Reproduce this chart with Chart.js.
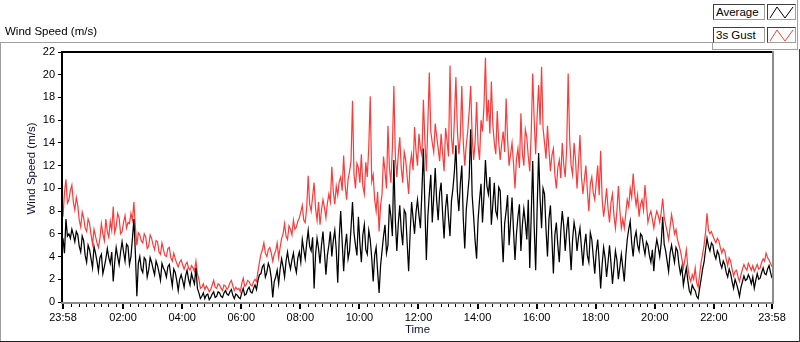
<!DOCTYPE html>
<html><head><meta charset="utf-8">
<script src="https://cdn.jsdelivr.net/npm/chart.js@4/dist/chart.umd.min.js"></script>
<style>
html,body{margin:0;padding:0;background:#fff;}
#wrap{position:relative;width:800px;height:342px;overflow:hidden;font-family:"Liberation Sans",Arial,sans-serif;color:#000;}
#c{position:absolute;left:0;top:0;}
.ln{position:absolute;}
#title{position:absolute;left:5px;top:25px;font-size:11.5px;line-height:13px;white-space:nowrap;}
.lbox{position:absolute;left:713px;width:48px;height:14px;border:1px solid;border-color:#404040 #a0a0a0 #a0a0a0 #404040;background:#fff;font-size:11.5px;line-height:14px;padding-left:2px;box-sizing:content-box;white-space:nowrap;}
.ibox{position:absolute;left:767px;width:27px;height:14px;border:1px solid;border-color:#404040 #a0a0a0 #a0a0a0 #404040;background:#fff;}
.ibox svg{position:absolute;left:0;top:0;}
</style></head>
<body>
<div id="wrap">
<canvas id="c" width="800" height="342"></canvas>
<div id="title">Wind Speed (m/s)</div>
<div class="ln" style="left:0;top:42px;width:712px;height:1px;background:#a0a0a0"></div>
<div class="ln" style="left:0;top:42px;width:1px;height:300px;background:#a0a0a0"></div>
<div class="ln" style="left:0;top:341px;width:800px;height:1px;background:#202020"></div>
<div class="ln" style="left:799px;top:49px;width:1px;height:293px;background:#404040"></div>
<div class="ln" style="left:712px;top:42px;width:1px;height:8px;background:#a0a0a0"></div>
<div class="ln" style="left:712px;top:49px;width:86px;height:1px;background:#a0a0a0"></div>
<div class="ln" style="left:797px;top:0;width:1px;height:50px;background:#a0a0a0"></div>
<div class="lbox" style="top:4px">Average</div>
<div class="ibox" style="top:4px"><svg width="27" height="14"><polyline points="2,13 9,2 17,13 25,2" fill="none" stroke="#000" stroke-width="1"/></svg></div>
<div class="lbox" style="top:27px">3s Gust</div>
<div class="ibox" style="top:27px"><svg width="27" height="14"><polyline points="2,13 9,2 17,13 25,2" fill="none" stroke="#ff3b3b" stroke-width="1"/></svg></div>
</div>
<script>
// sampling interval of the series, minutes after 23:58
const SAMPLE_MIN = 3;
// Average wind speed (m/s), one row per hour
const avgSpeed = [
5.6,4.3,7.3,5.8,6.0,5.6,6.4,5.9,5.3,6.2,5.9,4.9,4.4,5.8,5.4,4.1,3.5,5.0,4.6,3.8,
3.0,4.9,4.3,3.6,2.7,3.9,4.2,2.5,3.1,3.8,4.7,3.9,3.4,4.4,1.8,3.5,4.8,4.0,3.3,4.4,
5.3,4.4,3.6,5.1,4.9,3.3,4.0,5.6,7.3,4.3,0.5,3.4,4.0,2.9,2.6,3.9,3.7,2.2,2.8,3.9,
3.5,2.9,2.4,3.6,3.2,2.6,1.9,3.4,3.0,2.7,2.2,3.1,3.3,2.3,1.4,2.9,2.6,1.9,1.0,2.0,
2.4,1.9,1.3,2.3,2.8,2.0,1.5,2.5,2.0,1.6,3.0,1.2,0.8,0.3,0.5,0.8,0.3,0.6,0.7,0.2,
0.4,0.7,0.9,0.4,0.5,0.9,0.8,0.5,0.4,0.8,1.0,0.7,0.6,0.9,1.1,0.6,0.3,0.7,0.6,0.4,
0.3,0.8,1.2,0.6,0.7,1.1,1.3,0.9,0.8,1.2,1.5,1.1,1.9,2.4,2.5,3.1,3.3,2.2,2.6,3.4,
3.0,2.1,0.4,1.8,2.2,2.8,1.6,2.9,3.8,3.1,2.2,3.6,4.4,3.5,2.9,3.7,4.3,3.2,2.6,3.9,
4.4,3.5,5.5,4.6,3.8,5.2,6.3,4.9,4.5,5.7,1.2,4.2,5.6,4.7,3.4,5.0,6.2,4.4,2.4,4.1,
5.0,6.2,4.0,5.4,6.3,4.6,1.7,5.6,8.0,5.3,2.7,4.9,6.0,3.8,4.5,6.5,8.8,6.1,5.0,4.1,
7.5,5.2,3.5,5.9,6.8,4.6,4.2,6.3,5.5,3.9,1.8,4.1,4.8,2.7,0.8,3.2,4.5,5.8,6.8,4.3,
5.0,8.6,7.5,5.8,12.5,7.2,4.5,6.9,8.5,6.3,5.0,8.1,7.8,5.2,2.7,6.0,8.8,7.4,6.0,7.9,
9.0,7.6,6.5,9.8,13.5,8.4,3.7,7.5,9.5,11.2,7.0,9.2,11.8,8.9,7.2,9.6,10.5,7.8,5.6,8.3,
9.5,7.4,5.8,8.9,10.0,11.5,13.8,9.7,8.0,10.4,12.0,7.3,4.7,8.1,9.5,11.0,15.2,9.4,7.5,5.4,
3.8,7.2,9.0,10.4,7.0,9.3,12.5,10.2,9.5,11.0,6.8,8.6,10.5,8.0,7.5,10.1,9.8,6.2,3.5,6.9,
8.0,9.4,5.0,7.1,9.2,6.3,3.7,6.0,7.5,8.6,4.5,6.8,8.2,7.0,5.5,9.0,3.0,7.7,12.4,6.6,
2.8,8.2,13.1,9.1,6.5,10.0,9.5,6.4,4.0,7.3,8.5,5.6,2.5,5.9,7.0,5.0,3.5,6.2,8.0,6.7,
4.5,6.3,7.5,5.1,2.8,5.5,7.0,6.2,4.5,5.7,6.5,4.8,3.2,5.0,6.0,4.1,3.5,6.1,5.5,4.0,
2.5,4.4,5.5,3.6,1.2,3.3,4.8,3.9,2.2,3.5,5.0,3.4,1.6,3.0,4.5,3.7,2.0,3.1,4.2,3.0,
1.8,4.0,5.5,6.4,7.1,5.2,4.0,5.6,6.2,5.0,4.5,6.0,5.8,4.9,4.2,5.3,5.0,4.1,3.5,4.6,
2.7,4.6,5.5,4.8,4.0,5.2,7.5,5.1,4.5,3.6,2.7,4.3,5.0,4.2,3.5,4.8,4.5,3.3,2.5,3.1,
1.5,2.3,3.0,1.9,1.0,0.7,1.5,1.2,1.0,0.5,0.3,1.2,2.0,2.9,3.5,4.6,5.6,4.9,4.5,5.2,
5.0,4.2,3.8,4.5,4.2,3.4,3.0,3.6,3.3,2.6,2.2,2.9,2.5,1.8,1.2,2.0,1.6,1.1,0.5,1.3,
1.8,2.3,1.9,2.0,2.4,2.1,1.6,2.2,1.2,1.9,2.5,2.0,2.1,2.6,3.0,2.5,2.4,2.9,3.2,2.6,2.1
];
// 3 second gust (m/s), one row per hour
const gustSpeed = [
7.5,9.6,10.8,8.7,9.0,9.8,10.3,8.8,8.1,9.2,8.5,7.2,6.6,7.9,7.4,6.5,6.2,7.3,6.9,5.9,
5.1,6.4,5.8,5.2,4.8,5.6,6.9,6.0,5.4,7.3,6.2,5.7,7.1,6.3,8.4,6.1,6.6,7.8,7.4,6.0,
6.2,7.0,7.6,6.5,7.0,6.9,7.8,7.2,8.8,6.6,5.0,6.1,5.9,5.4,5.2,6.0,5.7,4.7,4.9,5.9,
5.6,5.0,4.6,5.4,5.3,4.4,4.2,5.2,4.6,4.1,4.0,4.7,4.8,3.9,3.6,4.3,3.8,3.4,3.1,3.5,
3.7,3.3,2.9,3.3,3.5,3.0,2.8,3.2,3.0,2.7,3.6,2.5,2.0,1.2,1.3,1.6,1.1,1.4,1.2,0.9,
1.1,1.5,1.9,1.3,1.2,1.6,1.5,1.2,1.0,1.5,1.4,1.1,1.3,1.7,1.9,1.4,1.0,1.3,1.1,1.2,
0.9,1.6,2.1,1.4,1.5,1.9,1.8,1.5,1.4,1.8,2.0,1.8,2.7,3.5,4.2,4.6,5.2,4.3,4.0,4.6,
4.8,4.3,3.6,4.2,4.5,5.2,3.9,4.8,5.6,6.0,6.9,5.8,5.5,6.7,6.4,5.9,7.2,6.4,6.6,7.1,
7.4,7.9,8.5,7.2,7.0,8.3,11.1,8.6,8.0,9.3,10.5,8.2,7.2,8.8,6.8,8.1,9.0,8.3,7.4,8.7,
9.5,8.8,11.9,9.7,8.6,10.2,9.4,10.6,11.0,9.8,12.9,10.3,9.0,10.8,11.5,12.4,17.7,11.3,10.0,12.2,
11.8,10.5,13.0,10.2,9.5,12.3,11.0,13.6,18.1,10.6,11.2,9.0,8.0,9.7,6.2,8.5,9.5,12.8,11.5,10.0,
15.5,11.8,10.5,13.6,19.0,12.8,11.0,13.0,14.5,11.8,10.5,13.2,12.5,11.0,9.5,12.1,13.0,11.6,15.4,13.3,
12.0,14.8,13.5,12.9,17.8,14.2,11.5,15.6,20.2,15.0,14.0,13.2,15.7,14.6,13.5,12.4,14.8,13.1,11.5,15.3,
14.2,12.8,20.8,14.5,13.0,16.2,19.8,15.1,13.0,14.6,19.0,14.0,12.0,13.8,15.0,16.8,19.0,14.6,12.5,14.0,
17.6,13.8,12.5,16.0,15.0,17.2,21.5,15.9,17.8,14.8,19.4,15.6,14.0,13.0,16.8,14.1,12.5,13.9,15.0,13.2,
17.9,14.3,12.0,13.0,14.0,12.2,10.0,12.6,13.5,11.8,16.6,13.1,12.0,15.2,14.5,12.8,11.5,14.9,20.1,16.0,
13.0,16.4,19.1,15.6,20.7,15.3,14.0,12.6,15.5,13.4,11.5,12.9,13.5,11.2,10.0,11.8,12.5,10.9,14.0,12.1,
11.0,13.6,20.1,14.3,12.0,11.2,14.0,12.5,10.0,12.2,14.7,11.0,9.5,10.8,12.0,9.8,8.0,10.4,11.0,9.6,
9.0,10.5,12.0,9.4,13.3,9.1,7.5,8.6,10.0,8.2,7.0,8.8,9.5,7.6,6.5,8.0,10.2,8.1,6.5,7.3,
6.5,7.8,9.0,8.4,10.0,9.2,11.3,9.6,8.5,9.4,7.5,8.6,9.0,8.1,10.3,8.7,7.0,7.6,8.0,7.3,
6.5,7.4,8.0,7.6,7.0,7.9,9.1,7.5,6.8,6.2,5.5,6.6,7.7,6.9,6.0,6.4,5.5,5.0,4.5,3.8,
3.0,3.7,4.6,3.1,2.2,1.8,2.4,2.0,3.0,1.7,1.3,2.4,3.5,4.2,5.0,6.1,7.8,6.3,6.0,6.2,
5.8,5.5,5.2,5.6,5.4,4.8,4.3,4.7,4.5,3.8,3.2,3.9,3.6,2.9,2.3,2.7,2.8,2.2,1.8,2.4,
2.9,3.3,3.0,2.8,3.4,3.1,2.8,3.2,2.7,3.0,3.3,2.9,3.0,3.5,3.8,3.6,4.3,3.9,3.7,3.4,3.1
];
// major x ticks (minutes after 23:58) and their labels
const majorTickMin = [0,122,242,362,482,602,722,842,962,1082,1202,1322,1440];
const tickLabels = ['23:58','02:00','04:00','06:00','08:00','10:00','12:00','14:00','16:00','18:00','20:00','22:00','23:58'];
const yTicks = [0,2,4,6,8,10,12,14,16,18,20,22];
const seriesNames = ['Average','3s Gust'];

const minorTickMin = [];
for (let m = 17; m < 1440; m += 15) if (!majorTickMin.includes(m)) minorTickMin.push(m);

const FONT = '"Liberation Sans", Arial, sans-serif';

const framePlugin = {
  id: 'frame',
  afterDraw(chart) {
    const {ctx, chartArea: a, scales: {x}} = chart;
    ctx.save();
    ctx.fillStyle = '#000';
    minorTickMin.forEach(m => { const px = Math.round(x.getPixelForValue(m)); ctx.fillRect(px, a.bottom + 2, 1, 3); });
    majorTickMin.forEach(m => { const px = Math.round(x.getPixelForValue(m)); ctx.fillRect(px - 1, a.bottom + 2, 2, 5); });
    // plot frame
    ctx.fillStyle = '#8c8c8c';
    ctx.fillRect(a.left - 2, a.bottom, a.right - a.left + 4, 2);
    ctx.fillRect(a.right, a.top - 1, 2, a.bottom - a.top + 3);
    ctx.fillStyle = '#000';
    ctx.fillRect(a.left - 2, a.top - 1, a.right - a.left + 2, 2);
    ctx.fillRect(a.left - 2, a.top - 1, 2, a.bottom - a.top + 1);
    // axis titles
    ctx.font = '11.5px ' + FONT;
    ctx.fillStyle = '#10103a';
    ctx.textAlign = 'center';
    ctx.textBaseline = 'alphabetic';
    ctx.fillText('Time', (a.left + a.right) / 2, 333);
    ctx.translate(35, 168.5);
    ctx.rotate(-Math.PI / 2);
    ctx.fillText('Wind Speed (m/s)', 0, 0);
    ctx.restore();
  }
};

new Chart(document.getElementById('c'), {
  type: 'line',
  data: {
    datasets: [
      { label: seriesNames[0], data: avgSpeed.map((v, i) => ({x: i * SAMPLE_MIN, y: v})),
        borderColor: '#000', borderWidth: 1.25, pointRadius: 0, tension: 0, fill: false },
      { label: seriesNames[1], data: gustSpeed.map((v, i) => ({x: i * SAMPLE_MIN, y: v})),
        borderColor: '#ff3838', borderWidth: 1.2, pointRadius: 0, tension: 0, fill: false }
    ]
  },
  options: {
    responsive: false, animation: false, devicePixelRatio: 1,
    layout: { padding: { left: 0, top: 52, right: 28, bottom: 0 } },
    plugins: { legend: { display: false }, tooltip: { enabled: false } },
    scales: {
      x: {
        type: 'linear', min: 0, max: 1440,
        afterBuildTicks: s => { s.ticks = majorTickMin.map(v => ({value: v})); },
        afterFit: s => { s.height = 40; },
        grid: { display: false, drawTicks: false },
        border: { display: false },
        ticks: { autoSkip: false, maxRotation: 0, minRotation: 0, padding: 9, color: '#000',
          font: { family: FONT, size: 11 },
          callback: v => { const k = majorTickMin.indexOf(v); return k >= 0 ? tickLabels[k] : ''; } }
      },
      y: {
        min: 0, max: 22,
        afterBuildTicks: s => { s.ticks = yTicks.map(v => ({value: v})); },
        afterFit: s => { s.width = 63; },
        grid: { display: true, drawOnChartArea: false, drawTicks: true, tickLength: 5, tickColor: '#000', color: '#000' },
        border: { display: false },
        ticks: { padding: 3, color: '#000', font: { family: FONT, size: 11 } }
      }
    }
  },
  plugins: [framePlugin]
});
</script>
</body></html>
